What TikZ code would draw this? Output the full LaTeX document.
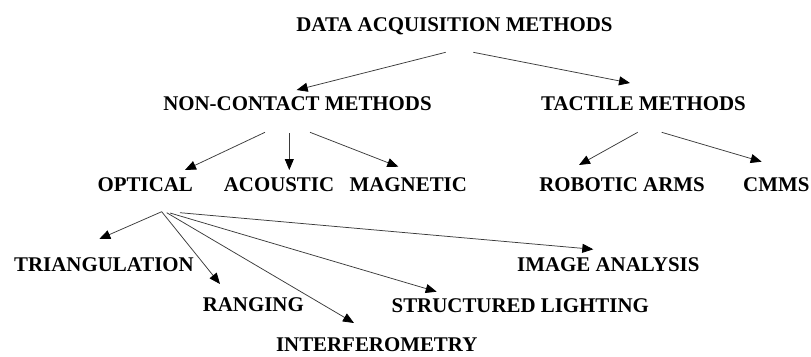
\documentclass[tikz,border=0pt]{standalone}
\usepackage{fontspec}
\setmainfont{Liberation Serif}
\usetikzlibrary{arrows.meta,calc}
\definecolor{linegray}{HTML}{3A3A3A}
\begin{document}
\begin{tikzpicture}[x=1pt,y=-1pt,
  lbl/.style={anchor=base,inner sep=0pt,font=\fontsize{20.9}{24}\selectfont\bfseries},
  arr/.style={draw=linegray,line width=0.75pt,-{Triangle[length=11pt,width=9pt,color=black]}}]
\useasboundingbox (0,0) rectangle (811,356);
\node[lbl] (title) at (454.5,31) {DATA ACQUISITION METHODS};
\node[lbl] (nc) at (297.5,110.7) {NON-CONTACT METHODS};
\node[lbl] (tm) at (643.5,110.7) {TACTILE METHODS};
\node[lbl] (opt) at (145.3,191.7) {OPTICAL};
\node[lbl] (aco) at (279,191.7) {ACOUSTIC};
\node[lbl] (mag) at (408.3,191.7) {MAGNETIC};
\node[lbl] (rob) at (622,191) {ROBOTIC ARMS};
\node[lbl] (cmm) at (776.3,191) {CMMS};
\node[lbl] (tri) at (104,271.7) {TRIANGULATION};
\node[lbl] (rng) at (253.3,311.7) {RANGING};
\node[lbl] (int) at (376.7,351.7) {INTERFEROMETRY};
\node[lbl] (str) at (520.3,312.7) {STRUCTURED LIGHTING};
\node[lbl] (img) at (608.3,271.7) {IMAGE ANALYSIS};
\draw[arr] ($(title.base)+(-8.8,21.3)$) -- ($(nc.base)+(-0.8,-20.7)$);
\draw[arr] ($(title.base)+(18.8,21.3)$) -- ($(tm.base)+(-13.5,-27.7)$);
\draw[arr] ($(nc.base)+(-32.5,21.6)$) -- ($(opt.base)+(39.7,-21.7)$);
\draw[arr] ($(nc.base)+(-8.2,22.6)$) -- ($(aco.base)+(10.3,-21.7)$);
\draw[arr] ($(nc.base)+(12.5,21.6)$) -- ($(mag.base)+(-10,-25)$);
\draw[arr] ($(tm.base)+(-5.8,21.6)$) -- ($(rob.base)+(-43,-26)$);
\draw[arr] ($(tm.base)+(18.2,21.6)$) -- ($(cmm.base)+(-14.6,-29.3)$);
\draw[arr] ($(opt.base)+(16.4,20)$) -- ($(tri.base)+(-4.7,-32.7)$);
\draw[arr] ($(opt.base)+(16.4,20)$) -- ($(rng.base)+(-33.3,-27.7)$);
\draw[arr] ($(opt.base)+(21.4,21)$) -- ($(int.base)+(-22.7,-28.7)$);
\draw[arr] ($(opt.base)+(24.7,21.3)$) -- ($(str.base)+(-83.6,-21)$);
\draw[arr] ($(opt.base)+(34.7,21)$) -- ($(img.base)+(-15,-22.4)$);
\end{tikzpicture}
\end{document}
